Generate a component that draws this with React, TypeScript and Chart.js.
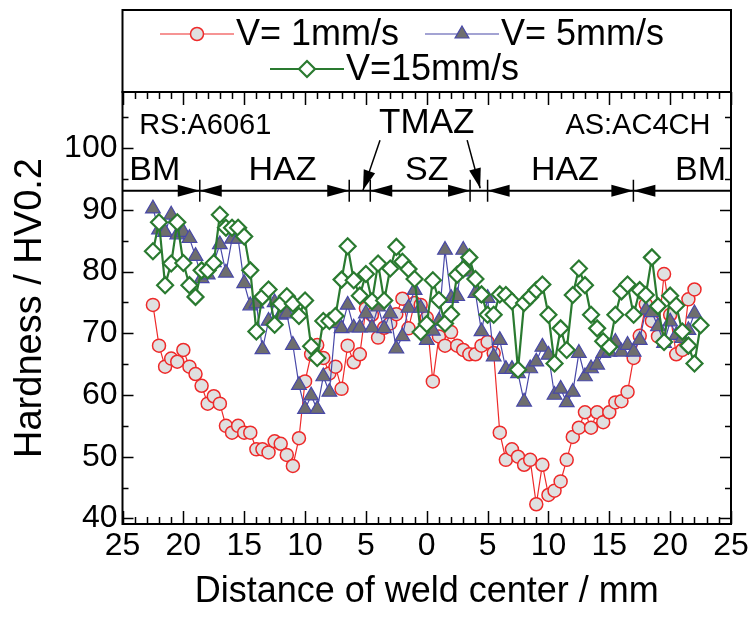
import React, { useEffect, useRef } from 'react';
import { Chart, registerables } from 'chart.js';

Chart.register(...registerables);

// Distance from weld centre (mm), negative = retreating side (RS), positive = advancing side (AS)
const distance = [
  -22.5, -22, -21.5, -21, -20.5, -20, -19.5, -19, -18.5, -18, -17.5, -17, -16.5, -16, -15.5, -15,
  -14.5, -14, -13.5, -13, -12.5, -12, -11.5, -11, -10.5, -10, -9.5, -9, -8.5, -8, -7.5, -7,
  -6.5, -6, -5.5, -5, -4.5, -4, -3.5, -3, -2.5, -2, -1.5, -1, -0.5, 0, 0.5, 1,
  1.5, 2, 2.5, 3, 3.5, 4, 4.5, 5, 5.5, 6, 6.5, 7, 7.5, 8, 8.5, 9,
  9.5, 10, 10.5, 11, 11.5, 12, 12.5, 13, 13.5, 14, 14.5, 15, 15.5, 16, 16.5, 17,
  17.5, 18, 18.5, 19, 19.5, 20, 20.5, 21, 21.5, 22, 22.5,
];

// V = 1 mm/s
const hv1 = [
  74.6, 68.0, 64.6, 65.9, 65.4, 67.3, 64.6, 63.4, 61.5, 58.6, 59.8, 58.6, 55.0, 53.9, 55.0, 53.9,
  53.9, 51.2, 51.2, 50.7, 52.5, 52.1, 50.3, 48.5, 53.0, 62.2, 66.6, 68.1, 66.0, 63.5, 64.6, 61.0,
  68.0, 65.3, 66.6, 74.0, 73.0, 69.3, 70.9, 71.6, 73.1, 75.6, 70.8, 74.9, 74.6, 72.5, 62.2, 69.5,
  68.0, 70.2, 68.0, 67.3, 66.6, 66.6, 68.0, 68.6, 66.8, 53.9, 49.5, 51.2, 50.0, 48.7, 49.5, 42.3,
  48.7, 43.8, 44.5, 46.0, 49.5, 53.2, 54.7, 57.2, 54.7, 57.2, 55.6, 57.2, 58.8, 59.0, 60.5, 66.0,
  69.6, 74.7, 72.0, 69.5, 79.6, 73.0, 66.6, 67.3, 75.5, 77.1,
];

// V = 5 mm/s
const hv5 = [
  90.2, 86.8, 86.4, 89.2, 86.0, 86.4, 85.4, 82.5, 78.9, 79.5, 81.5, 84.4, 79.8, 85.3, 85.3, 78.1,
  74.5, 74.8, 67.4, 72.0, 75.0, 73.0, 73.2, 68.1, 61.6, 57.7, 59.9, 57.7, 63.0, 60.5, 71.6, 70.8,
  74.6, 70.9, 70.9, 73.2, 70.9, 74.3, 70.8, 73.2, 67.5, 69.5, 74.1, 77.0, 74.1, 68.9, 70.4, 72.0,
  83.5, 75.7, 76.0, 83.5, 80.0, 76.5, 70.3, 75.7, 66.2, 68.9, 64.2, 64.2, 63.5, 58.9, 64.3, 65.4,
  67.8, 66.5, 60.0, 61.0, 58.8, 60.5, 66.8, 63.0, 64.3, 64.9, 66.8, 67.0, 68.6, 67.0, 68.1, 67.0,
  68.9, 73.8, 73.4, 71.1, 68.4, 71.9, 69.7, 69.2, 70.5, 73.2,
];

// V = 15 mm/s
const hv15 = [
  83.3, 88.0, 77.8, 81.3, 88.0, 81.4, 77.8, 75.9, 80.2, 80.2, 81.4, 89.2, 87.1, 87.1, 87.1, 85.7,
  80.2, 70.3, 75.9, 77.1, 71.4, 74.8, 76.0, 74.8, 72.8, 75.3, 67.9, 66.0, 72.0, 72.0, 72.8, 78.7,
  84.1, 78.6, 76.1, 79.6, 75.2, 81.3, 75.3, 80.5, 84.0, 81.6, 80.4, 78.8, 70.2, 71.5, 78.6, 75.4,
  71.6, 73.1, 79.5, 80.4, 82.3, 78.8, 76.3, 73.0, 73.0, 76.3, 76.2, 75.2, 64.1, 74.9, 75.9, 77.0,
  77.9, 73.0, 65.1, 70.8, 67.3, 76.2, 80.5, 77.8, 73.0, 70.8, 68.7, 67.8, 73.0, 76.8, 77.9, 73.0,
  77.0, 76.2, 82.3, 74.4, 68.6, 76.1, 74.5, 70.3, 68.0, 65.1, 71.3,
];

const seriesLabels = ['V= 1mm/s', 'V= 5mm/s', 'V=15mm/s'];
const xTickValues = [-25, -20, -15, -10, -5, 0, 5, 10, 15, 20, 25];
const yTickValues = [40, 50, 60, 70, 80, 90, 100];

// zone annotation (data coordinates)
const zoneLineY = 93.1;
const zoneBounds = [-18.65, -6.37, -4.64, 3.56, 5.0, 16.98];
const zoneNames = ['BM', 'HAZ', 'SZ', 'HAZ', 'BM'];
const zoneNameX = [-22.35, -11.85, 0, 11.35, 22.5];
const zoneNameY = 96.3;
const sideNotes = ['RS:A6061', 'TMAZ', 'AS:AC4CH'];
const sideNoteX = [-18.2, 0, 17.35];
const sideNoteY = [103.6, 104.1, 103.6];
const tmazArrowFrom = [[-3.84, 101.3], [3.32, 101.3]];
const tmazArrowTo = [[-5.24, 93.2], [4.39, 93.5]];

const FONT = '"Liberation Sans", Arial, Helvetica, sans-serif';

const RED = '#ee2a2a';
const BLUE = '#4848a8';
const GREEN = '#2a7a30';

function pts(vals: number[]) {
  return vals.map((v, i) => ({ x: distance[i], y: v }));
}

function arrowHead(ctx: CanvasRenderingContext2D, tipX: number, tipY: number, dx: number, dy: number, len: number, half: number) {
  const l = Math.hypot(dx, dy);
  const ux = dx / l, uy = dy / l;
  const bx = tipX - ux * len, by = tipY - uy * len;
  ctx.beginPath();
  ctx.moveTo(tipX, tipY);
  ctx.lineTo(bx - uy * half, by + ux * half);
  ctx.lineTo(bx + uy * half, by - ux * half);
  ctx.closePath();
  ctx.fill();
}

const decorPlugin = {
  id: 'decor',
  afterDraw(chart: any) {
    const { ctx, chartArea: a, scales } = chart;
    const xs = scales.x, ys = scales.y;
    ctx.save();
    ctx.strokeStyle = '#000';
    ctx.fillStyle = '#000';

    // inward ticks
    ctx.lineWidth = 1.5;
    ctx.beginPath();
    for (let v = -25; v <= 25; v += 1) {
      const px = Math.round(xs.getPixelForValue(v)) + 0.5;
      const len = v % 5 === 0 ? 13 : 7;
      ctx.moveTo(px, a.bottom);
      ctx.lineTo(px, a.bottom - len);
      ctx.moveTo(px, a.top);
      ctx.lineTo(px, a.top + len);
    }
    for (let v = 40; v <= 105; v += 5) {
      const py = Math.round(ys.getPixelForValue(v)) + 0.5;
      const len = v % 10 === 0 ? 11 : 6;
      ctx.moveTo(a.left, py);
      ctx.lineTo(a.left + len, py);
      ctx.moveTo(a.right, py);
      ctx.lineTo(a.right - len, py);
    }
    ctx.stroke();

    // frame and legend box
    ctx.lineWidth = 2;
    ctx.strokeRect(a.left, a.top, a.right - a.left, a.bottom - a.top);
    ctx.strokeRect(a.left, 10, a.right - a.left, a.top - 10);

    // legend
    const drawMarker = (kind: string, cx: number, cy: number) => {
      ctx.save();
      if (kind === 'circle') {
        ctx.fillStyle = '#e0e0e0';
        ctx.strokeStyle = RED;
        ctx.lineWidth = 1.5;
        ctx.beginPath();
        ctx.arc(cx, cy, 6.5, 0, Math.PI * 2);
        ctx.fill();
        ctx.stroke();
      } else if (kind === 'triangle') {
        ctx.fillStyle = '#6e6e6e';
        ctx.strokeStyle = BLUE;
        ctx.lineWidth = 1.2;
        const r = 8;
        ctx.beginPath();
        ctx.moveTo(cx, cy - r);
        ctx.lineTo(cx + r * 0.866, cy + r * 0.5);
        ctx.lineTo(cx - r * 0.866, cy + r * 0.5);
        ctx.closePath();
        ctx.fill();
        ctx.stroke();
      } else {
        ctx.fillStyle = '#fff';
        ctx.strokeStyle = GREEN;
        ctx.lineWidth = 2.2;
        const r = 8;
        ctx.beginPath();
        ctx.moveTo(cx, cy - r);
        ctx.lineTo(cx + r, cy);
        ctx.lineTo(cx, cy + r);
        ctx.lineTo(cx - r, cy);
        ctx.closePath();
        ctx.fill();
        ctx.stroke();
      }
      ctx.restore();
    };
    const legendItems = [
      { x0: 160, x1: 234, y: 34, color: RED, w: 1.2, kind: 'circle', text: seriesLabels[0] },
      { x0: 425, x1: 499, y: 34, color: BLUE, w: 1.2, kind: 'triangle', text: seriesLabels[1] },
      { x0: 270, x1: 344, y: 69, color: GREEN, w: 2.2, kind: 'diamond', text: seriesLabels[2] },
    ];
    ctx.font = `36px ${FONT}`;
    ctx.textBaseline = 'middle';
    ctx.textAlign = 'left';
    for (const it of legendItems) {
      ctx.save();
      ctx.strokeStyle = it.color;
      ctx.lineWidth = it.w;
      ctx.beginPath();
      ctx.moveTo(it.x0, it.y);
      ctx.lineTo(it.x1, it.y);
      ctx.stroke();
      ctx.restore();
      drawMarker(it.kind, (it.x0 + it.x1) / 2, it.y);
      ctx.fillStyle = '#000';
      ctx.fillText(it.text, it.x1 + 2, it.y + 1);
    }

    // zone line with dividers and arrows
    const ly = ys.getPixelForValue(zoneLineY);
    ctx.lineWidth = 2;
    ctx.beginPath();
    ctx.moveTo(a.left, ly);
    ctx.lineTo(a.right, ly);
    ctx.stroke();
    ctx.lineWidth = 1.5;
    const bpx = zoneBounds.map((b) => xs.getPixelForValue(b));
    ctx.beginPath();
    for (const p of bpx) {
      ctx.moveTo(p, ly - 11);
      ctx.lineTo(p, ly + 11);
    }
    ctx.stroke();
    const AL = 22, AH = 6;
    // arrows pointing outward toward each divider (skip the narrow TMAZ zones)
    arrowHead(ctx, bpx[0], ly, 1, 0, AL, AH);
    arrowHead(ctx, bpx[0], ly, -1, 0, AL, AH);
    arrowHead(ctx, bpx[1], ly, 1, 0, AL, AH);
    arrowHead(ctx, bpx[2], ly, -1, 0, AL, AH);
    arrowHead(ctx, bpx[3], ly, 1, 0, AL, AH);
    arrowHead(ctx, bpx[4], ly, -1, 0, AL, AH);
    arrowHead(ctx, bpx[5], ly, 1, 0, AL, AH);
    arrowHead(ctx, bpx[5], ly, -1, 0, AL, AH);

    // zone names
    ctx.textAlign = 'center';
    ctx.textBaseline = 'middle';
    ctx.font = `34px ${FONT}`;
    zoneNames.forEach((n, i) => {
      ctx.fillText(n, xs.getPixelForValue(zoneNameX[i]), ys.getPixelForValue(zoneNameY));
    });
    sideNotes.forEach((n, i) => {
      ctx.font = i === 1 ? `35px ${FONT}` : `29px ${FONT}`;
      ctx.fillText(n, xs.getPixelForValue(sideNoteX[i]), ys.getPixelForValue(sideNoteY[i]));
    });

    // TMAZ arrows
    ctx.lineWidth = 1.5;
    for (let i = 0; i < 2; i++) {
      const fx = xs.getPixelForValue(tmazArrowFrom[i][0]);
      const fy = ys.getPixelForValue(tmazArrowFrom[i][1]);
      const tx = xs.getPixelForValue(tmazArrowTo[i][0]);
      const ty = ys.getPixelForValue(tmazArrowTo[i][1]);
      ctx.beginPath();
      ctx.moveTo(fx, fy);
      ctx.lineTo(tx, ty);
      ctx.stroke();
      arrowHead(ctx, tx, ty, tx - fx, ty - fy, 20, 6);
    }
    ctx.restore();
  },
};

export default function App() {
  const ref = useRef<HTMLCanvasElement | null>(null);
  useEffect(() => {
    if (!ref.current) return;
    const chart = new Chart(ref.current, {
      type: 'line',
      data: {
        datasets: [
          {
            label: seriesLabels[0],
            data: pts(hv1),
            borderColor: RED,
            borderWidth: 1.2,
            pointStyle: 'circle',
            pointRadius: 6.5,
            pointBackgroundColor: '#e0e0e0',
            pointBorderColor: RED,
            pointBorderWidth: 1.5,
            tension: 0,
            order: 3,
          },
          {
            label: seriesLabels[1],
            data: pts(hv5),
            borderColor: BLUE,
            borderWidth: 1.2,
            pointStyle: 'triangle',
            pointRadius: 8.5,
            pointBackgroundColor: '#6e6e6e',
            pointBorderColor: BLUE,
            pointBorderWidth: 1.2,
            tension: 0,
            order: 2,
          },
          {
            label: seriesLabels[2],
            data: pts(hv15),
            borderColor: GREEN,
            borderWidth: 2.2,
            pointStyle: 'rectRot',
            pointRadius: 8,
            pointBackgroundColor: '#ffffff',
            pointBorderColor: GREEN,
            pointBorderWidth: 2.2,
            tension: 0,
            order: 1,
          },
        ] as any,
      },
      options: {
        animation: false,
        responsive: false,
        layout: { padding: { top: 92, right: 22, left: 0, bottom: 0 } },
        plugins: { legend: { display: false }, tooltip: { enabled: false } },
        scales: {
          x: {
            type: 'linear',
            min: -25,
            max: 25,
            afterFit: (s: any) => { s.height = 93; },
            afterBuildTicks: (s: any) => { s.ticks = xTickValues.map((v) => ({ value: v })); },
            grid: { display: false, drawTicks: false },
            border: { display: false },
            ticks: {
              padding: 3,
              color: '#000',
              autoSkip: false,
              maxRotation: 0,
              font: { family: FONT, size: 32 },
              callback: (v: any) => String(Math.abs(Number(v))),
            },
            title: {
              display: true,
              text: 'Distance of weld center / mm',
              color: '#000',
              font: { family: FONT, size: 36 },
              padding: { top: 0, bottom: 3 },
            },
          },
          y: {
            type: 'linear',
            min: 39.1,
            max: 109.1,
            afterFit: (s: any) => { s.width = 122.5; },
            afterBuildTicks: (s: any) => { s.ticks = yTickValues.map((v) => ({ value: v })); },
            grid: { display: false, drawTicks: false },
            border: { display: false },
            ticks: {
              padding: 5,
              color: '#000',
              autoSkip: false,
              font: { family: FONT, size: 32 },
            },
            title: {
              display: true,
              text: 'Hardness / HV0.2',
              color: '#000',
              font: { family: FONT, size: 38 },
              padding: { top: 8, bottom: 0 },
            },
          },
        } as any,
      },
      plugins: [decorPlugin],
    });
    return () => chart.destroy();
  }, []);
  return (
    <div style={{ position: 'absolute', left: 0, top: 0, width: 753, height: 617, background: '#fff' }}>
      <canvas ref={ref} width={753} height={617} style={{ display: 'block' }} />
    </div>
  );
}
